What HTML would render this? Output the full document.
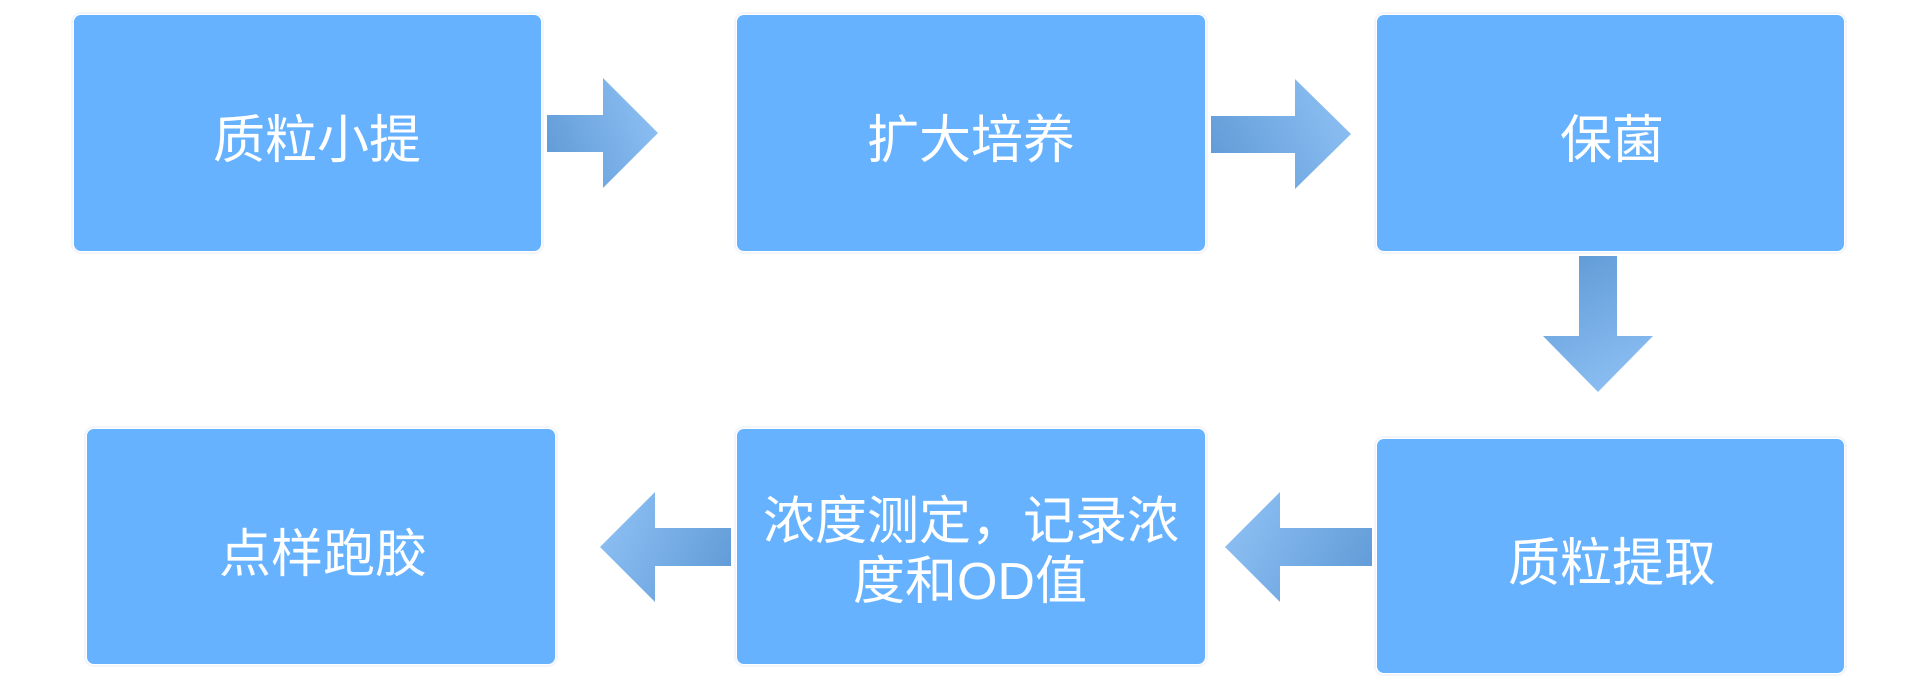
<!DOCTYPE html>
<html>
<head>
<meta charset="utf-8">
<style>
  html, body { margin: 0; padding: 0; background: #ffffff; }
  svg { display: block; }
  text { font-family: "Liberation Sans", "Noto Sans CJK SC", sans-serif; font-size: 52px; fill: #ffffff; }
</style>
</head>
<body>
<svg width="1920" height="689" viewBox="0 0 1920 689" xmlns="http://www.w3.org/2000/svg">
  <defs>
    <linearGradient id="gR" x1="0" y1="0.7" x2="1" y2="0.3">
      <stop offset="0" stop-color="#629cd7"/>
      <stop offset="1" stop-color="#8dc0f4"/>
    </linearGradient>
    <linearGradient id="gL" x1="1" y1="0.7" x2="0" y2="0.3">
      <stop offset="0" stop-color="#629cd7"/>
      <stop offset="1" stop-color="#8dc0f4"/>
    </linearGradient>
    <linearGradient id="gD" x1="0.3" y1="0" x2="0.7" y2="1">
      <stop offset="0" stop-color="#629cd7"/>
      <stop offset="1" stop-color="#8dc0f4"/>
    </linearGradient>
  </defs>

  <!-- faint outer halos -->
  <g fill="none" stroke="#f2f5f9" stroke-width="2">
    <rect x="72" y="13" width="471" height="240" rx="9"/>
    <rect x="735" y="13" width="472" height="240" rx="9"/>
    <rect x="1375" y="13" width="471" height="240" rx="9"/>
    <rect x="85" y="427" width="472" height="239" rx="9"/>
    <rect x="735" y="427" width="472" height="239" rx="9"/>
    <rect x="1375" y="437" width="471" height="238" rx="9"/>
  </g>

  <!-- boxes -->
  <g fill="#66b2ff">
    <rect x="74" y="15" width="467" height="236" rx="7"/>
    <rect x="737" y="15" width="468" height="236" rx="7"/>
    <rect x="1377" y="15" width="467" height="236" rx="7"/>
    <rect x="87" y="429" width="468" height="235" rx="7"/>
    <rect x="737" y="429" width="468" height="235" rx="7"/>
    <rect x="1377" y="439" width="467" height="234" rx="7"/>
  </g>

  <!-- arrows -->
  <polygon fill="url(#gR)" points="547,115 603,115 603,78 658,133 603,188 603,152 547,152"/>
  <polygon fill="url(#gR)" points="1211,116 1295,116 1295,79 1351,134 1295,189 1295,153 1211,153"/>
  <polygon fill="url(#gD)" points="1579,256 1617,256 1617,336 1653,336 1598,392 1543,336 1579,336"/>
  <polygon fill="url(#gL)" points="731,528 655,528 655,492 600,547 655,602 655,566 731,566"/>
  <polygon fill="url(#gL)" points="1372,528 1280,528 1280,492 1225,547 1280,602 1280,566 1372,566"/>

  <!-- labels -->
  <text x="317" y="158" text-anchor="middle">质粒小提</text>
  <text x="971" y="158" text-anchor="middle">扩大培养</text>
  <text x="1612" y="158" text-anchor="middle">保菌</text>
  <text x="323" y="572" text-anchor="middle">点样跑胶</text>
  <text x="971" y="539" text-anchor="middle">浓度测定，记录浓</text>
  <text x="970" y="599" text-anchor="middle">度和OD值</text>
  <text x="1612" y="581" text-anchor="middle">质粒提取</text>
</svg>
</body>
</html>
